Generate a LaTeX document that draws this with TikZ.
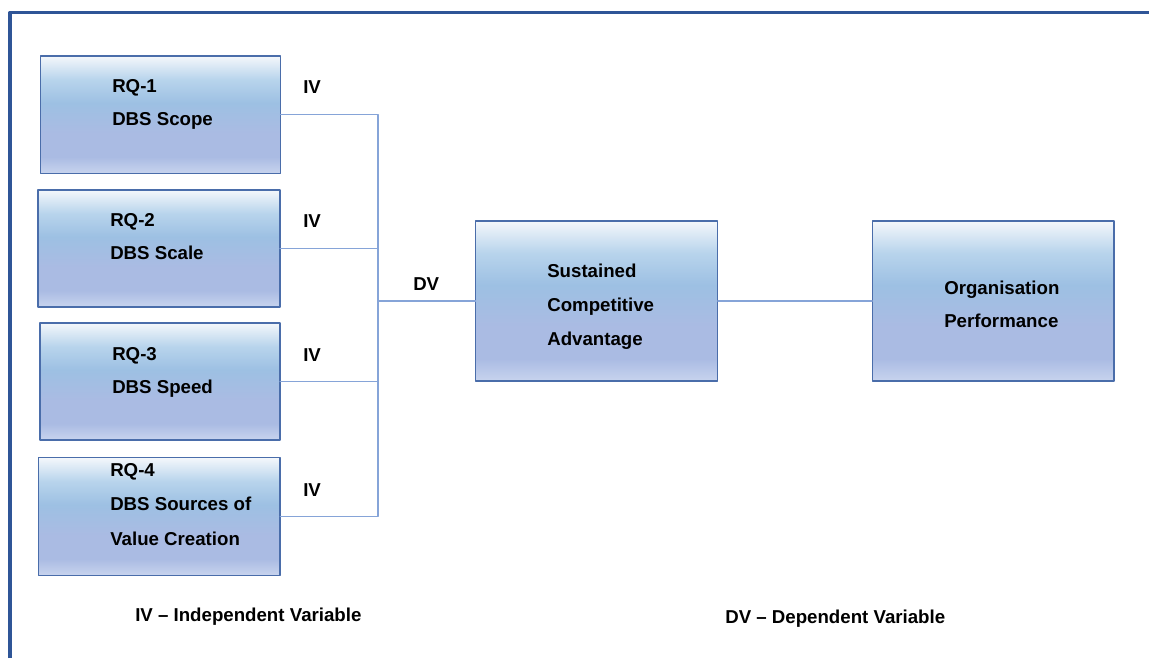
\documentclass[tikz,border=0pt]{standalone}
\usepackage{fontspec}
\setmainfont{Liberation Sans}
\definecolor{framecol}{HTML}{2F5597}
\definecolor{boxedge}{HTML}{4A6DAA}
\definecolor{linkcol}{HTML}{86A4D8}
\definecolor{shBot}{HTML}{C8D4EE}
\definecolor{shLow}{HTML}{AABBE3}
\definecolor{shMid}{HTML}{9DC0E3}
\definecolor{shHigh}{HTML}{B8D4EC}
\definecolor{shTop}{HTML}{F4F7FB}
\pgfdeclareverticalshading{boxshade}{100bp}{color(0bp)=(shBot); color(25bp)=(shBot); color(32bp)=(shLow); color(42bp)=(shLow); color(55bp)=(shMid); color(65bp)=(shHigh); color(75bp)=(shTop); color(100bp)=(shTop)}

\begin{document}
\begin{tikzpicture}[line cap=round,line join=round,x=0.75pt,y=-0.75pt,
		box/.style={draw=boxedge,line width=1.1pt,shade,shading=boxshade,inner sep=0pt,outer sep=0pt},
		lbl/.style={anchor=base west,inner sep=0pt,font=\bfseries\fontsize{14pt}{16pt}\selectfont},
		link/.style={draw=linkcol,line width=0.8pt}]
	\useasboundingbox (0,0) rectangle (1149,658);
	\draw [line width=2.3pt,color=framecol,line cap=butt] (10,658) -- (10,12.5) -- (1149,12.5);
	\node[box,minimum width=180pt,minimum height=88pt] (rq1) at (160.5,114.7) {};
	\node[box,minimum width=181.5pt,minimum height=87.75pt] (rq2) at (159,248.5) {};
	\node[box,minimum width=180pt,minimum height=87.75pt] (rq3) at (160,381.5) {};
	\node[box,minimum width=181.3pt,minimum height=88.2pt] (rq4) at (159.2,516.5) {};
	\node[box,minimum width=181.5pt,minimum height=120.2pt] (sca) at (596.7,301) {};
	\node[box,minimum width=181.3pt,minimum height=120.2pt] (perf) at (993.2,301) {};
	\coordinate (jn) at (378,301);
	\draw[link] (rq1.east) -| (jn);
	\draw[link] (rq2.east) -| (jn);
	\draw[link] (rq3.east) -| (jn);
	\draw[link] (rq4.east) -| (jn);
	\draw[link] (jn) -- (sca.west);
	\draw[link] (sca.east) -- (perf.west);
	\node[lbl] (t1a) at (112,92) {RQ-1};
	\node[lbl] (t1b) at (112,125) {DBS Scope};
	\node[lbl] (t2a) at (110,226) {RQ-2};
	\node[lbl] (t2b) at (110,259) {DBS Scale};
	\node[lbl] (t3a) at (112,360) {RQ-3};
	\node[lbl] (t3b) at (112,393) {DBS Speed};
	\node[lbl] (t4a) at (110,476) {RQ-4};
	\node[lbl] (t4b) at (110,510) {DBS Sources of};
	\node[lbl] (t4c) at (110,545) {Value Creation};
	\node[lbl] (s1) at (547,277) {Sustained};
	\node[lbl] (s2) at (547,311.5) {Competitive};
	\node[lbl] (s3) at (547,345.5) {Advantage};
	\node[lbl] (p1) at (944,294) {Organisation};
	\node[lbl] (p2) at (944,327.5) {Performance};
	\node[lbl] (iv1) at (303,93) {IV};
	\node[lbl] (iv2) at (303,227) {IV};
	\node[lbl] (iv3) at (303,361) {IV};
	\node[lbl] (iv4) at (303,496) {IV};
	\node[lbl] (dv) at (413,290) {DV};
	\node[lbl] (ivkey) at (135,621) {IV -- Independent Variable};
	\node[lbl] (dvkey) at (725,623) {DV -- Dependent Variable};
\end{tikzpicture}
\end{document}
